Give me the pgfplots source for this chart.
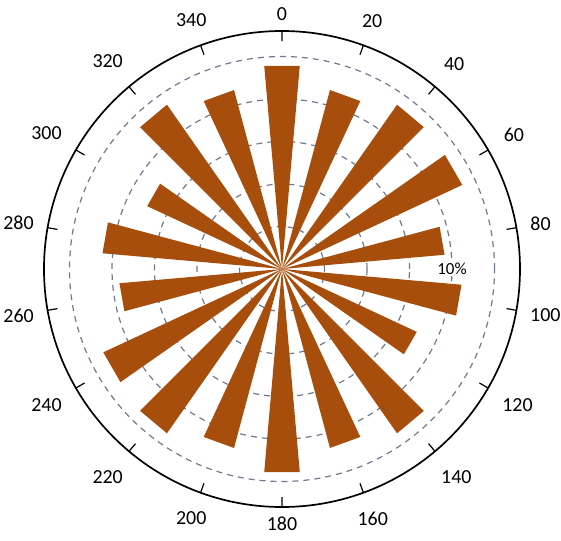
\documentclass[border=0pt]{standalone}
\usepackage{fontspec}
\setmainfont{Carlito}
\usepackage{pgfplots}
\usepgfplotslibrary{polar}
\pgfplotsset{compat=1.18}
\definecolor{rose}{RGB}{168,78,12}
\definecolor{ring}{RGB}{112,122,142}
\begin{document}
\begin{tikzpicture}
\begin{polaraxis}[
  at={(0,0)}, anchor=center,
  scale only axis, width=476bp, height=476bp,
  xmin=0, xmax=360, ymin=0, ymax=14,
  % compass angles (0 at top, clockwise) -> math angles
  x filter/.expression={mod(450-x,360)},
  xtick={10,30,...,350},
  xticklabels={80,60,40,20,0,340,320,300,280,260,240,220,200,180,160,140,120,100},
  xtick align=outside, major tick length=10bp,
  x tick style={black, line width=1.2bp},
  xticklabel style={font=\fontsize{20}{24}\selectfont, inner sep=20bp},
  ytick={2.5,5,...,12.5}, yticklabels={}, ytick style={draw=none},
  grid=none, ymajorgrids=true,
  y grid style={ring, line width=1.2bp, dash pattern=on 6bp off 5bp},
  axis line style={black, line width=1.7bp},
  y axis line style={draw=none},
  petal/.style={fill=rose, draw=none, mark=none},
]
% each petal: centre, then its two corners at +-5 degrees
\addplot[petal] coordinates {(0,0) (355,12.0) (5,12.0)};
\addplot[petal] coordinates {(0,0) (15,10.9) (25,10.9)};
\addplot[petal] coordinates {(0,0) (35,11.8) (45,11.8)};
\addplot[petal] coordinates {(0,0) (55,11.7) (65,11.7)};
\addplot[petal] coordinates {(0,0) (75,9.6) (85,9.6)};
\addplot[petal] coordinates {(0,0) (95,10.6) (105,10.6)};
\addplot[petal] coordinates {(0,0) (115,8.75) (125,8.75)};
\addplot[petal] coordinates {(0,0) (135,11.8) (145,11.8)};
\addplot[petal] coordinates {(0,0) (155,10.9) (165,10.9)};
\addplot[petal] coordinates {(0,0) (175,12.0) (185,12.0)};
\addplot[petal] coordinates {(0,0) (195,10.9) (205,10.9)};
\addplot[petal] coordinates {(0,0) (215,11.8) (225,11.8)};
\addplot[petal] coordinates {(0,0) (235,11.6) (245,11.6)};
\addplot[petal] coordinates {(0,0) (255,9.6) (265,9.6)};
\addplot[petal] coordinates {(0,0) (275,10.6) (285,10.6)};
\addplot[petal] coordinates {(0,0) (295,8.75) (305,8.75)};
\addplot[petal] coordinates {(0,0) (315,11.8) (325,11.8)};
\addplot[petal] coordinates {(0,0) (335,10.9) (345,10.9)};
\node[fill=white, inner sep=1bp, font=\fontsize{17}{19}\selectfont] at (axis cs:0,10) {10\%};
\end{polaraxis}
\pgfresetboundingbox
\path[use as bounding box] (-282bp,-272bp) rectangle (279bp,269bp);
\end{tikzpicture}
\end{document}
